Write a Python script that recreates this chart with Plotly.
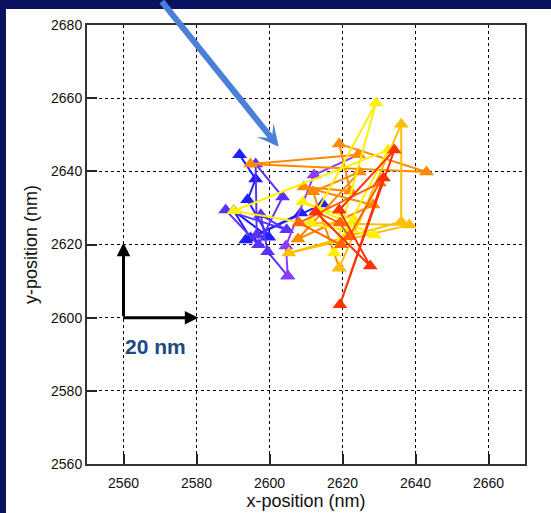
import plotly.graph_objects as go

# ---- data (nm) ----
blue_x = [2591.8, 2596.2, 2594.0, 2599.8, 2590.2, 2594.8, 2608.6, 2593.5, 2614.6, 2596.5]
blue_y = [2644.5, 2637.9, 2632.2, 2622.0, 2629.2, 2621.8, 2628.6, 2621.2, 2631.1, 2622.6]

violet_x = [2596.5, 2596.2, 2603.6, 2597.0, 2588.0, 2604.7, 2597.6, 2599.5, 2605.0]
violet_y = [2622.6, 2642.0, 2633.0, 2619.9, 2629.4, 2624.0, 2628.1, 2618.0, 2611.4]

purple_x = [2605.0, 2604.5, 2612.2, 2624.3]
purple_y = [2611.4, 2619.6, 2639.0, 2644.5]

orange_x = [2624.3, 2594.8, 2643.0, 2619.1, 2622.1, 2609.4, 2628.4, 2607.8, 2624.6, 2611.9, 2619.1]
orange_y = [2644.5, 2642.0, 2639.8, 2647.5, 2634.6, 2635.7, 2630.8, 2621.5, 2639.8, 2634.4, 2613.6]

amber_x = [2619.1, 2636.1, 2636.1, 2605.3, 2638.3, 2611.3]
amber_y = [2613.6, 2652.9, 2626.2, 2617.7, 2625.3, 2625.9]

yellow_x = [2611.3, 2629.2, 2617.7, 2632.5, 2590.2, 2628.7, 2609.1, 2623.2, 2619.6]
yellow_y = [2625.9, 2658.7, 2617.7, 2645.8, 2629.2, 2622.6, 2631.6, 2626.7, 2619.9]

orred_x = [2619.6, 2608.1, 2630.1, 2621.8, 2619.3, 2612.7]
orred_y = [2619.9, 2625.9, 2636.8, 2622.1, 2625.9, 2628.9]

red_x = [2612.7, 2627.6, 2619.1, 2634.2, 2619.3, 2631.2]
red_y = [2628.9, 2614.1, 2629.4, 2645.8, 2603.5, 2638.2]

series = [
    (blue_x, blue_y, "#1e1eff"),
    (violet_x, violet_y, "#5a32ff"),
    (purple_x, purple_y, "#8a3cff"),
    (orange_x, orange_y, "#ff8a00"),
    (amber_x, amber_y, "#ffbe00"),
    (yellow_x, yellow_y, "#fff000"),
    (orred_x, orred_y, "#ff6400"),
    (red_x, red_y, "#ff3200"),
]

x_ticks = [2560, 2580, 2600, 2620, 2640, 2660]
y_ticks = [2560, 2580, 2600, 2620, 2640, 2660, 2680]

fig = go.Figure()
for xs, ys, col in series:
    fig.add_trace(go.Scatter(
        x=xs, y=ys, mode="lines+markers",
        line=dict(color=col, width=2),
        marker=dict(symbol="triangle-up", size=13, color=col, line=dict(width=0)),
        showlegend=False, cliponaxis=False,
    ))

FONT = "Liberation Sans, Arial, sans-serif"

axis_common = dict(
    showgrid=True, gridcolor="#000000", griddash="dot", gridwidth=1,
    showline=True, linecolor="#333333", linewidth=2, mirror=True,
    ticks="inside", ticklen=10, tickwidth=2, tickcolor="#222222",
    zeroline=False, automargin=False,
    tickfont=dict(family=FONT, size=14, color="#111111"),
)

fig.update_xaxes(range=[2550, 2670], tickvals=x_ticks, ticklabelstandoff=5,
                 title=dict(text="x-position (nm)", standoff=4,
                            font=dict(family=FONT, size=18, color="#111111")),
                 **axis_common)
fig.update_yaxes(range=[2560, 2680], tickvals=y_ticks,
                 title=dict(text="y-position (nm)", standoff=9,
                            font=dict(family=FONT, size=18, color="#111111")),
                 **axis_common)

# white panel on navy background
fig.add_shape(type="rect", xref="paper", yref="paper",
              x0=-0.185, x1=1.2, y0=-0.2, y1=1.0364,
              fillcolor="white", line=dict(width=0), layer="below")

# big blue pointer arrow
fig.add_annotation(x=2602.5, y=2646.7, ax=-118, ay=-152, text="",
                   showarrow=True, arrowhead=3, arrowsize=0.6, arrowwidth=6,
                   arrowcolor="#4a80d8")

# scale bar arrows
fig.add_annotation(x=2560, y=2620.5, ax=2560, ay=2600, axref="x", ayref="y", text="",
                   showarrow=True, arrowhead=2, arrowsize=0.9, arrowwidth=3, arrowcolor="#000000")
fig.add_annotation(x=2580.5, y=2600, ax=2559.5, ay=2600, axref="x", ayref="y", text="",
                   showarrow=True, arrowhead=2, arrowsize=0.9, arrowwidth=3, arrowcolor="#000000")
fig.add_annotation(x=2559.8, y=2592, text="<b>20 nm</b>", showarrow=False,
                   xanchor="left", yanchor="middle",
                   font=dict(family=FONT, size=21, color="#1b4a85"))

fig.update_layout(
    width=551, height=513,
    margin=dict(l=87, r=26, t=25, b=49),
    paper_bgcolor="#0a1260", plot_bgcolor="white",
)

fig.write_html("out.html", config={"displayModeBar": False},
               post_script="document.body.style.margin='0';document.body.style.overflow='hidden';document.body.style.background='#0a1260';")
